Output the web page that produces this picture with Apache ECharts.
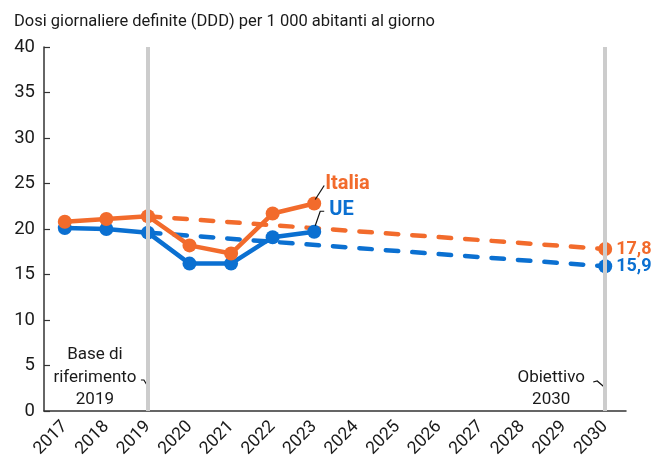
<!DOCTYPE html>
<html>
<head>
<meta charset="utf-8">
<script src="https://cdn.jsdelivr.net/npm/echarts@6/dist/echarts.min.js"></script>
<style>
  html, body { margin: 0; padding: 0; background: #fff; }
  #chart { width: 665px; height: 468px; }
</style>
</head>
<body>
<div id="chart"></div>
<script>
// Years on the horizontal axis
const years = ['2017', '2018', '2019', '2020', '2021', '2022', '2023',
               '2024', '2025', '2026', '2027', '2028', '2029', '2030'];
// Observed consumption (DDD per 1 000 inhabitants per day)
const italia = [20.8, 21.1, 21.4, 18.2, 17.3, 21.7, 22.8];
const ue     = [20.1, 20.0, 19.6, 16.2, 16.2, 19.1, 19.7];
// Baseline year and 2030 targets
const baseYear = '2019';
const targetYear = '2030';
const italiaTarget = 17.8;
const ueTarget = 15.9;
// Y axis range
const yMin = 0, yMax = 40, yStep = 5;

const ORANGE = '#F26B2C';
const BLUE = '#0B70D1';
const FONT = 'Roboto';

const pad = arr => years.map((_, i) => (i < arr.length ? arr[i] : null));

// Dashed path from the baseline value to the target value
function projection(observed, target, color) {
  const baseIdx = years.indexOf(baseYear);
  const tgtIdx = years.indexOf(targetYear);
  return years.map((_, i) => {
    if (i === baseIdx) return { value: observed[baseIdx], symbol: 'none' };
    if (i === tgtIdx) return {
      value: target, symbol: 'circle', symbolSize: 14,
      itemStyle: { color: color },
      label: {
        show: true, position: 'right', distance: 4,
        color: color, fontFamily: FONT, fontWeight: 'bold', fontSize: 18,
        formatter: p => String(p.value).replace('.', ',')
      }
    };
    return null;
  });
}

const chart = echarts.init(document.getElementById('chart'));

chart.setOption({
  animation: false,
  backgroundColor: '#fff',
  title: {
    text: 'Dosi giornaliere definite (DDD) per 1 000 abitanti al giorno',
    left: 9, top: 8,
    textStyle: { fontFamily: FONT, fontSize: 16.5, fontWeight: 'normal', color: '#1a1a1a' }
  },
  grid: { left: 44, right: 39, top: 47, bottom: 57, containLabel: false },
  xAxis: {
    type: 'category',
    data: years,
    boundaryGap: true,
    axisLine: { lineStyle: { color: '#333', width: 1.5 } },
    axisTick: { show: false },
    axisLabel: {
      rotate: 45, interval: 0, margin: 13,
      fontFamily: FONT, fontSize: 17.5, color: '#1a1a1a'
    },
    splitLine: { show: false }
  },
  yAxis: {
    type: 'value',
    min: yMin, max: yMax, interval: yStep,
    axisLine: { show: true, lineStyle: { color: '#333', width: 1.5 } },
    axisTick: { show: true, inside: true, length: 6, lineStyle: { color: '#333', width: 1.2 } },
    axisLabel: { fontFamily: FONT, fontSize: 18.5, color: '#1a1a1a', margin: 9 },
    splitLine: { show: false }
  },
  series: [
    {
      // Reference verticals: baseline and target years
      type: 'line', data: [], z: 1,
      markLine: {
        silent: true, symbol: 'none', label: { show: false },
        lineStyle: { color: '#cccccc', width: 4, type: 'solid' },
        data: [{ xAxis: baseYear }, { xAxis: targetYear }]
      }
    },
    {
      name: 'Italia obiettivo', type: 'line', z: 2,
      data: projection(italia, italiaTarget, ORANGE),
      connectNulls: true,
      lineStyle: { color: ORANGE, width: 4.5, type: [12.5, 14], cap: 'round' },
      itemStyle: { color: ORANGE }
    },
    {
      name: 'UE obiettivo', type: 'line', z: 2,
      data: projection(ue, ueTarget, BLUE),
      connectNulls: true,
      lineStyle: { color: BLUE, width: 4.5, type: [12.5, 14], cap: 'round' },
      itemStyle: { color: BLUE }
    },
    {
      name: 'UE', type: 'line', z: 3,
      data: pad(ue),
      symbol: 'circle', symbolSize: 14,
      lineStyle: { color: BLUE, width: 4.5 },
      itemStyle: { color: BLUE }
    },
    {
      name: 'Italia', type: 'line', z: 4,
      data: pad(italia),
      symbol: 'circle', symbolSize: 14,
      lineStyle: { color: ORANGE, width: 4.5 },
      itemStyle: { color: ORANGE }
    }
  ]
});

// Series labels, leader lines and reference-year notes, placed from axis coordinates
const px = (x, y) => chart.convertToPixel({ gridIndex: 0 }, [x, y]);
const lastYear = years[italia.length - 1];
const pIt = px(lastYear, italia[italia.length - 1]);
const pUe = px(lastYear, ue[ue.length - 1]);
const pBase = px(baseYear, 0);
const pTgt = px(targetYear, 0);

const noteStyle = { fontFamily: FONT, fontSize: 17, fill: '#1a1a1a', textAlign: 'center', textVerticalAlign: 'middle' };
const leader = { stroke: '#111', lineWidth: 1.2, fill: null };

chart.setOption({
  graphic: [
    { type: 'polyline', shape: { points: [[pIt[0] + 1, pIt[1] - 4], [pIt[0] + 10, pIt[1] - 18]] }, style: leader, z: 10 },
    { type: 'text', x: pIt[0] + 11, y: pIt[1] - 20, style: { text: 'Italia', fontFamily: FONT, fontSize: 20, fontWeight: 'bold', fill: ORANGE, textVerticalAlign: 'middle' }, z: 10 },
    { type: 'polyline', shape: { points: [[pUe[0] + 1, pUe[1] - 6], [pUe[0] + 6, pUe[1] - 20.5], [pUe[0] + 10, pUe[1] - 20.5]] }, style: leader, z: 10 },
    { type: 'text', x: pUe[0] + 15, y: pUe[1] - 22, style: { text: 'UE', fontFamily: FONT, fontSize: 20, fontWeight: 'bold', fill: BLUE, textVerticalAlign: 'middle' }, z: 10 },

    { type: 'text', x: pBase[0] - 53, y: pBase[1] - 56, style: Object.assign({ text: 'Base di' }, noteStyle) },
    { type: 'text', x: pBase[0] - 53, y: pBase[1] - 33, style: Object.assign({ text: 'riferimento' }, noteStyle) },
    { type: 'text', x: pBase[0] - 53, y: pBase[1] - 11, style: Object.assign({ text: '2019' }, noteStyle) },
    { type: 'polyline', shape: { points: [[pBase[0] - 7, pBase[1] - 31], [pBase[0] - 4, pBase[1] - 31], [pBase[0] - 1, pBase[1] - 26]] }, style: leader },

    { type: 'text', x: pTgt[0] - 54, y: pTgt[1] - 33, style: Object.assign({ text: 'Obiettivo' }, noteStyle) },
    { type: 'text', x: pTgt[0] - 54, y: pTgt[1] - 11, style: Object.assign({ text: '2030' }, noteStyle) },
    { type: 'polyline', shape: { points: [[pTgt[0] - 12, pTgt[1] - 29], [pTgt[0] - 8, pTgt[1] - 30], [pTgt[0] - 1, pTgt[1] - 24]] }, style: leader }
  ]
});
</script>
</body>
</html>
